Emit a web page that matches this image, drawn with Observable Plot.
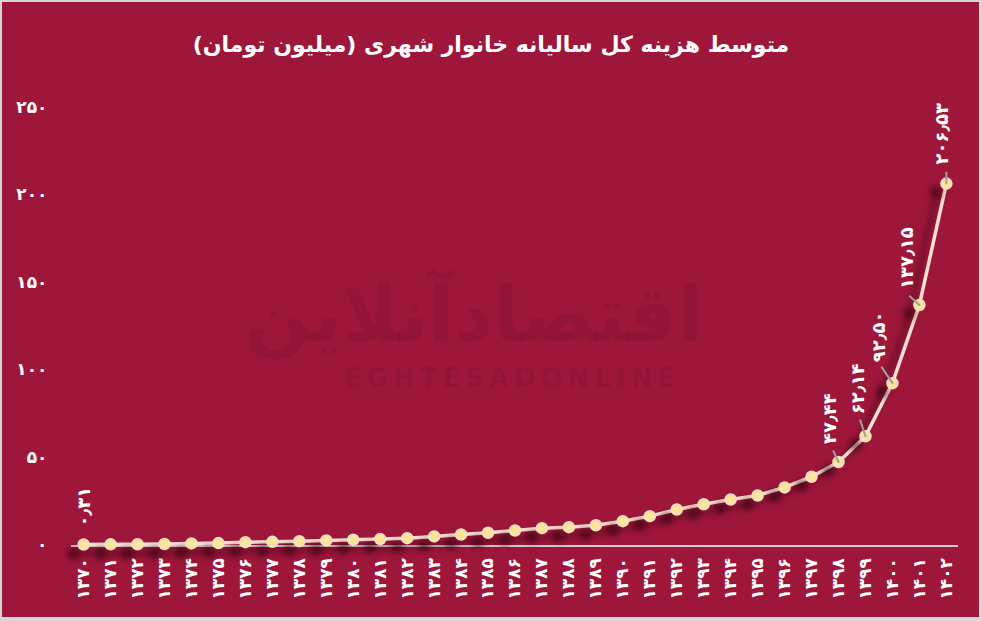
<!DOCTYPE html>
<html>
<head>
<meta charset="utf-8">
<script src="https://cdn.jsdelivr.net/npm/d3@7"></script>
<script src="https://cdn.jsdelivr.net/npm/@observablehq/plot@0.6"></script>
<style>
  html, body { margin: 0; padding: 0; }
  body { width: 982px; height: 621px; background: #d6d6d6; position: relative; overflow: hidden; font-family: "DejaVu Sans", sans-serif; }
  #panel { position: absolute; left: 2px; top: 2px; width: 977px; height: 615px; background: #9e173b; }
  #title { position: absolute; left: 0; top: 30px; width: 982px; text-align: center; color: #fff; font-size: 22px; font-weight: 600; line-height: 30px; direction: rtl; font-family: "DejaVu Sans", sans-serif; }
  #wm1 { position: absolute; left: 234px; top: 272px; width: 480px; text-align: center; direction: rtl; font-size: 76px; font-weight: bold; color: rgba(60,0,20,0.10); line-height: 86px; }
  #wm2 { position: absolute; left: 312px; top: 364px; width: 400px; text-align: center; font-size: 26px; font-weight: bold; letter-spacing: 5px; color: rgba(60,0,20,0.10); line-height: 28px; }
  #chart { position: absolute; left: 0; top: 60px; }
</style>
</head>
<body>
<div id="panel"></div>
<div id="wm1">اقتصادآنلاین</div>
<div id="wm2">EGHTESADONLINE</div>
<div id="title">متوسط هزینه کل سالیانه خانوار شهری (میلیون تومان)</div>
<div id="chart"></div>
<script>
// ---- data ----
const years = [1370, 1371, 1372, 1373, 1374, 1375, 1376, 1377, 1378, 1379, 1380, 1381, 1382, 1383, 1384, 1385, 1386,
               1387, 1388, 1389, 1390, 1391, 1392, 1393, 1394, 1395, 1396, 1397, 1398, 1399, 1400, 1401, 1402];
const values = [0.31, 0.36, 0.45, 0.56, 0.9, 1.1, 1.6, 1.8, 2.2, 2.6, 3.0, 3.4, 3.9, 4.9, 6.0, 7.0, 8.3,
                9.6, 10.2, 11.3, 13.6, 16.5, 20.3, 23.3, 26.0, 28.3, 32.9, 39.0, 47.44, 62.14, 92.50, 137.15, 206.53];
const labelYears = [1370, 1398, 1399, 1400, 1401, 1402];
const yTicks = [0, 50, 100, 150, 200, 250];

// ---- label styling (pixel offsets, not data) ----
const labelStyle = {
  1370: {dx: 1, dy: -18, angle: 0, len: 0},
  1398: {dx: -8, dy: -18, angle: -25, len: 12},
  1399: {dx: -7, dy: -22, angle: -18, len: 17},
  1400: {dx: -13, dy: -21, angle: -34, len: 19},
  1401: {dx: -12, dy: -16, angle: -48, len: 13},
  1402: {dx: -4, dy: -19, angle: 0, len: 11}
};

const faDigits = "۰۱۲۳۴۵۶۷۸۹";
const toFa = s => String(s).replace(/\d/g, d => faDigits[d]).replace(".", "٫");

const data = years.map((y, i) => ({year: y, value: values[i]}));
const labelled = data.filter(d => labelYears.includes(d.year));

const leaderShape = {
  draw(context, l) { context.moveTo(0, 0); context.lineTo(0, -l); }
};

const marks = [
  Plot.ruleY([0], {stroke: "#d9cfd2", strokeWidth: 2, dy: 1}),
  Plot.line(data, {x: "year", y: "value", stroke: "#f8e0d0", strokeWidth: 3.5}),
  Plot.dot(data, {x: "year", y: "value", r: 5.5, fill: "#fde49a", stroke: "#f9dfc9", strokeWidth: 1.5}),
  Plot.vector(labelled.filter(d => labelStyle[d.year].len > 0), {
    x: "year", y: "value",
    length: d => labelStyle[d.year].len,
    rotate: d => labelStyle[d.year].angle,
    anchor: "start", shape: leaderShape,
    stroke: "#9aa0a0", strokeWidth: 2
  })
];
for (const d of labelled) {
  const s = labelStyle[d.year];
  marks.push(Plot.text([d], {
    x: "year", y: "value",
    text: d => toFa(d.value.toFixed(2)),
    rotate: -90, textAnchor: "start",
    dx: s.dx, dy: s.dy,
    fill: "#ffffff", fontSize: 18, fontWeight: 600
  }));
}

const chart = Plot.plot({
  width: 982,
  height: 557,
  marginLeft: 71,
  marginRight: 24,
  marginTop: 47,
  marginBottom: 72.5,
  style: {background: "transparent", color: "#ffffff", fontFamily: "DejaVu Sans, sans-serif", fontSize: "17px", overflow: "visible"},
  x: {type: "point", domain: years, padding: 0.45, label: null, tickSize: 0, tickPadding: 13, tickRotate: -90, tickFormat: toFa},
  y: {type: "linear", domain: [0, 250], ticks: yTicks, label: null, tickSize: 0, tickPadding: 24, tickFormat: toFa},
  length: {type: "identity"},
  marks
});

chart.querySelectorAll('[aria-label="line"], [aria-label="dot"]').forEach(g => {
  g.style.filter = "drop-shadow(-10px 9px 3px rgba(40,0,12,0.55))";
});
chart.querySelectorAll('[aria-label="x-axis tick label"] text, [aria-label="y-axis tick label"] text').forEach(t => {
  t.setAttribute("font-weight", "600");
});
document.getElementById("chart").appendChild(chart);
</script>
</body>
</html>
